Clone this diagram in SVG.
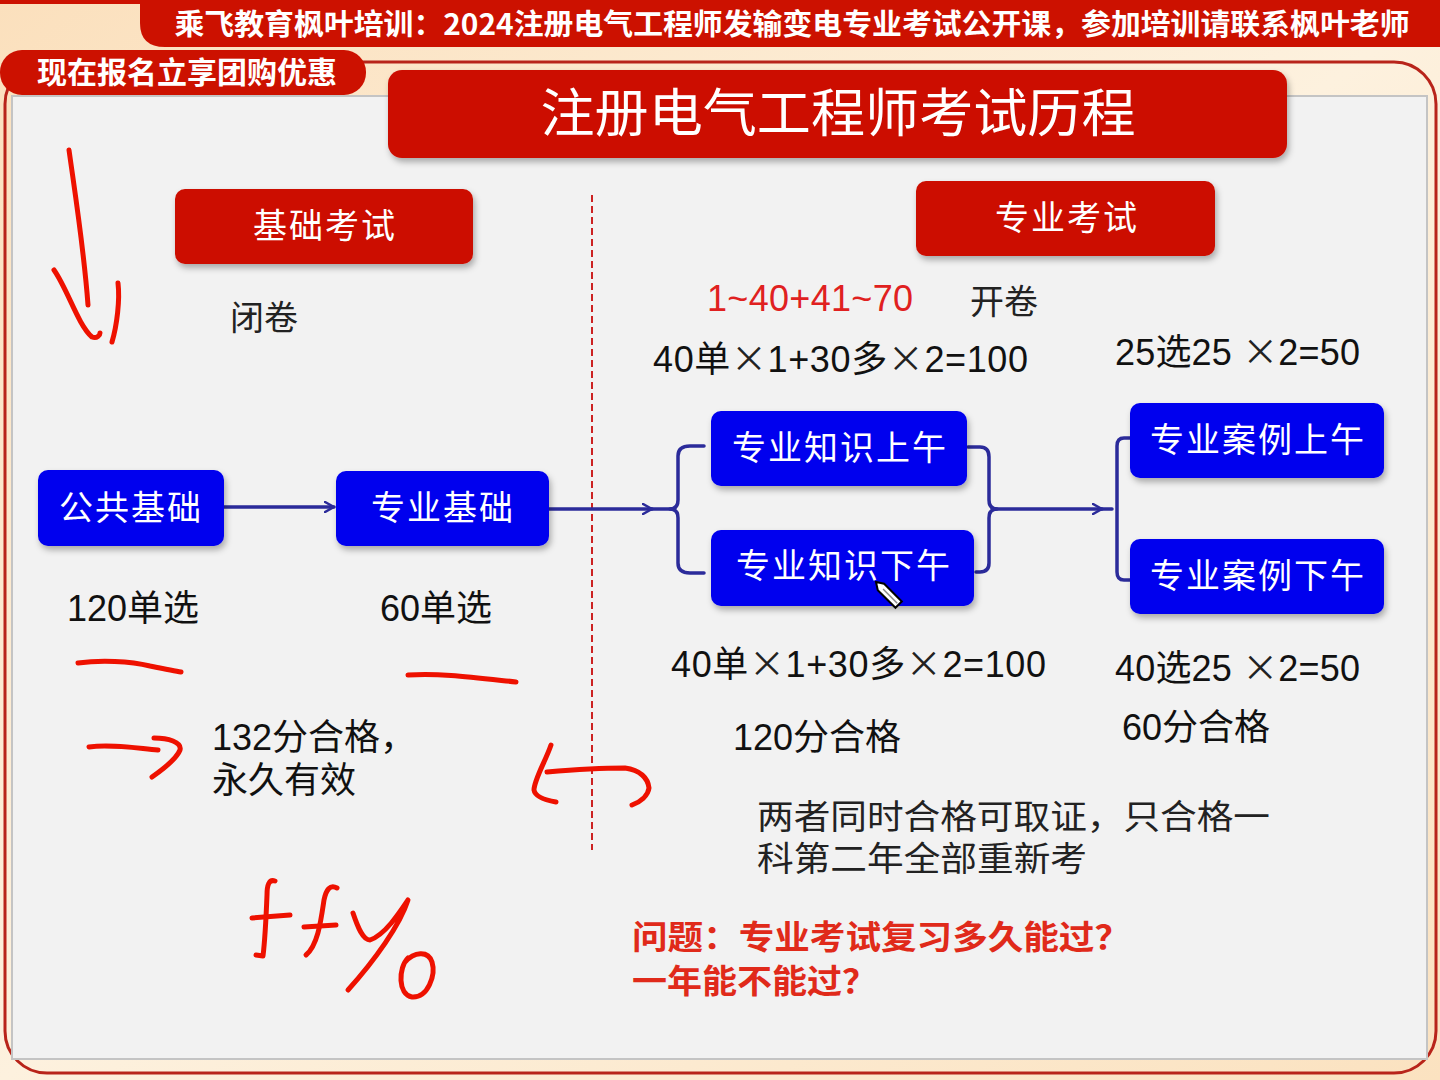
<svg xmlns="http://www.w3.org/2000/svg" width="1440" height="1080" viewBox="0 0 1440 1080">
<defs>
<linearGradient id="bg" x1="0" y1="0" x2="1" y2="1">
<stop offset="0" stop-color="#fbe0bd"/>
<stop offset="0.5" stop-color="#fdf1de"/>
<stop offset="1" stop-color="#fbe2c0"/>
</linearGradient>
<filter id="sh" x="-10%" y="-10%" width="120%" height="140%">
<feDropShadow dx="2" dy="4" stdDeviation="3" flood-color="#000" flood-opacity="0.3"/>
</filter>
<marker id="arr" viewBox="0 0 12 12" refX="10" refY="6" markerWidth="12" markerHeight="12" markerUnits="userSpaceOnUse" orient="auto">
<path d="M1,1 L10,6 L1,11" fill="none" stroke="#2b2b9a" stroke-width="2.5" stroke-linecap="round" stroke-linejoin="round"/>
</marker>
<style>
.red{fill:#cc1100}
.blue{fill:#0000ee}
.wt{fill:#fff;font-family:"Noto Sans CJK SC",sans-serif;text-anchor:middle}
.bt{fill:#111;font-family:"Liberation Sans","Noto Sans CJK SC",sans-serif;font-size:36px}
.cn{fill:#222;font-family:"Noto Sans CJK SC",sans-serif;font-size:34px}
.x{font-family:"Noto Sans CJK SC",sans-serif;font-size:36px;fill:#222}
.con{fill:none;stroke:#2b2b9a;stroke-width:3.5;stroke-linecap:round;stroke-linejoin:round}
.ink{fill:none;stroke:#ee1100;stroke-width:5;stroke-linecap:round;stroke-linejoin:round}
</style>
</defs>
<rect x="0" y="0" width="1440" height="1080" fill="url(#bg)"/>
<!-- outer frame -->
<rect x="5" y="62" width="1431" height="1011" rx="42" fill="none" stroke="#b8241a" stroke-width="3"/>
<!-- inner panel -->
<rect x="12" y="96" width="1415" height="963" fill="#f2f2f2" stroke="#c4c4c4" stroke-width="2"/>
<!-- top banner -->
<rect x="0" y="0" width="1440" height="4" class="red"/>
<path d="M140,0 L1440,0 L1440,47 L165,47 Q140,47 140,23 Z" class="red"/>
<text x="792" y="35" class="wt" font-size="29" font-weight="bold" textLength="1235" lengthAdjust="spacingAndGlyphs">乘飞教育枫叶培训：2024注册电气工程师发输变电专业考试公开课，参加培训请联系枫叶老师</text>
<rect x="0" y="50" width="366" height="45" rx="22" class="red"/>
<text x="187" y="83" class="wt" font-size="30" font-weight="bold" textLength="300" lengthAdjust="spacingAndGlyphs">现在报名立享团购优惠</text>
<!-- title -->
<g id="title">
<rect x="388" y="70" width="899" height="88" rx="14" class="red" filter="url(#sh)"/>
<text x="838" y="132" class="wt" font-size="52" textLength="595" lengthAdjust="spacingAndGlyphs">注册电气工程师考试历程</text>
</g>
<g id="jichu">
<rect x="175" y="189" width="298" height="75" rx="10" class="red" filter="url(#sh)"/>
<text x="325" y="238" class="wt" font-size="34" letter-spacing="2">基础考试</text>
</g>
<g id="zhuanye">
<rect x="916" y="181" width="299" height="75" rx="10" class="red" filter="url(#sh)"/>
<text x="1067" y="230" class="wt" font-size="34" letter-spacing="2">专业考试</text>
</g>
<!-- divider -->
<line x1="592" y1="195" x2="592" y2="850" stroke="#cc2222" stroke-width="2" stroke-dasharray="7,4"/>
<!-- connectors -->
<g id="connectors">
<line x1="224" y1="507" x2="334" y2="507" class="con" marker-end="url(#arr)"/>
<line x1="549" y1="509" x2="652" y2="509" class="con" marker-end="url(#arr)"/>
<line x1="650" y1="509" x2="672" y2="509" class="con"/>
<path d="M704,446 L690,446 Q678,446 678,456 L678,500 Q678,509 670,509 Q678,509 678,518 L678,563 Q678,573 690,573 L704,573" class="con"/>
<path d="M968,447 L980,447 Q989,447 989,457 L989,500 Q989,509 997,509 Q989,509 989,518 L989,563 Q989,572 980,572 L976,572" class="con"/>
<line x1="995" y1="509" x2="1102" y2="509" class="con" marker-end="url(#arr)"/>
<line x1="1100" y1="509" x2="1112" y2="509" class="con"/>
<path d="M1130,438 L1124,438 Q1117,438 1117,446 L1117,572 Q1117,580 1124,580 L1130,580" class="con"/>
</g>
<!-- blue nodes -->
<g id="gonggong">
<rect x="38" y="470" width="186" height="76" rx="10" class="blue" filter="url(#sh)"/>
<text x="131" y="520" class="wt" font-size="34" letter-spacing="2">公共基础</text>
</g>
<g id="zyjichu">
<rect x="336" y="471" width="213" height="75" rx="10" class="blue" filter="url(#sh)"/>
<text x="443" y="520" class="wt" font-size="34" letter-spacing="2">专业基础</text>
</g>
<g id="zhishi-am">
<rect x="711" y="411" width="256" height="75" rx="10" class="blue" filter="url(#sh)"/>
<text x="840" y="460" class="wt" font-size="34" letter-spacing="2">专业知识上午</text>
</g>
<g id="zhishi-pm">
<rect x="711" y="530" width="263" height="76" rx="10" class="blue" filter="url(#sh)"/>
<text x="844" y="578" class="wt" font-size="34" letter-spacing="2">专业知识下午</text>
</g>
<g id="anli-am">
<rect x="1130" y="403" width="254" height="75" rx="10" class="blue" filter="url(#sh)"/>
<text x="1258" y="452" class="wt" font-size="34" letter-spacing="2">专业案例上午</text>
</g>
<g id="anli-pm">
<rect x="1130" y="539" width="254" height="75" rx="10" class="blue" filter="url(#sh)"/>
<text x="1258" y="588" class="wt" font-size="34" letter-spacing="2">专业案例下午</text>
</g>
<!-- labels -->
<text x="230" y="330" class="cn" fill="#333">闭卷</text>
<text x="707" y="311" class="bt" style="fill:#e02020" textLength="206" lengthAdjust="spacing">1~40+41~70</text>
<text x="970" y="314" class="cn">开卷</text>
<text x="653" y="372" class="bt" textLength="375" lengthAdjust="spacing">40单<tspan class="x">×</tspan>1+30多<tspan class="x">×</tspan>2=100</text>
<text x="1115" y="365" class="bt" textLength="245" lengthAdjust="spacing">25选25 <tspan class="x">×</tspan>2=50</text>
<text x="67" y="621" class="bt">120单选</text>
<text x="380" y="621" class="bt">60单选</text>
<text x="671" y="677" class="bt" textLength="375" lengthAdjust="spacing">40单<tspan class="x">×</tspan>1+30多<tspan class="x">×</tspan>2=100</text>
<text x="1115" y="681" class="bt" textLength="245" lengthAdjust="spacing">40选25 <tspan class="x">×</tspan>2=50</text>
<text x="733" y="750" class="bt">120分合格</text>
<text x="1122" y="740" class="bt">60分合格</text>
<text x="212" y="750" class="bt">132分合格，</text>
<text x="212" y="793" class="bt">永久有效</text>
<text x="757" y="829" class="cn" font-size="33" textLength="513" lengthAdjust="spacingAndGlyphs">两者同时合格可取证，只合格一</text>
<text x="757" y="871" class="cn" font-size="33" textLength="330" lengthAdjust="spacingAndGlyphs">科第二年全部重新考</text>
<text x="632" y="949" font-family="Noto Sans CJK SC,sans-serif" font-size="33" font-weight="bold" fill="#e02a1a" textLength="498" lengthAdjust="spacingAndGlyphs">问题：专业考试复习多久能过？</text>
<text x="632" y="993" font-family="Noto Sans CJK SC,sans-serif" font-size="33" font-weight="bold" fill="#e02a1a" textLength="245" lengthAdjust="spacingAndGlyphs">一年能不能过？</text>
<!-- hand-drawn ink -->
<g id="ink">
<path class="ink" d="M69,150 C76,200 84,250 88,305"/>
<path class="ink" d="M54,270 C68,290 78,325 92,337 C97,339 100,335 100,333"/>
<path class="ink" d="M118,283 C120,300 117,325 112,342"/>
<path class="ink" d="M78,663 C100,660 130,661 150,666 C165,669 175,671 181,672"/>
<path class="ink" d="M408,675 C440,673 470,677 516,682"/>
<path class="ink" d="M89,747 C110,744 135,748 158,750"/>
<path class="ink" d="M154,738 C168,738 182,742 180,750 C176,760 162,770 152,777"/>
<path class="ink" d="M551,745 C546,760 534,780 534,790 C535,797 545,800 556,802"/>
<path class="ink" d="M547,772 C570,770 600,768 625,768 C640,770 648,778 649,788 C648,796 640,802 632,805"/>
<path class="ink" d="M275,881 C269,879 267,885 267,895 C266,920 265,940 263,956 L256,955"/>
<path class="ink" d="M252,918 L290,915"/>
<path class="ink" d="M337,888 C330,884 326,890 324,900 C321,920 318,945 306,955"/>
<path class="ink" d="M304,927 L336,925"/>
<path class="ink" d="M353,913 C358,928 363,940 370,940 C385,935 400,912 408,900 C400,925 375,960 348,990"/>
<path class="ink" d="M408,958 C398,968 398,995 412,997 C428,998 436,975 432,962 C428,950 414,952 405,962"/>
</g>
<!-- pen cursor -->
<g transform="translate(876,582) rotate(45)">
<path d="M0,0 L7,-4.5 L32,-4.5 L32,4.5 L7,4.5 Z" fill="#fff" stroke="#000" stroke-width="2"/>
<line x1="10" y1="0" x2="30" y2="0" stroke="#888" stroke-width="1.5"/>
</g>
</svg>
